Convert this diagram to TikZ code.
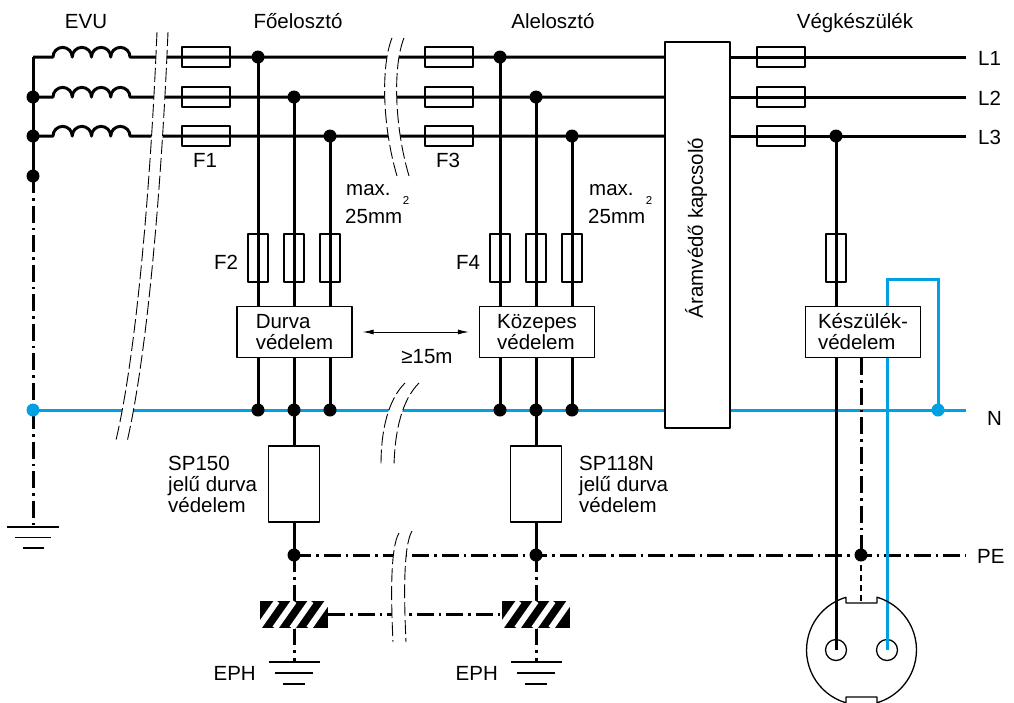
\documentclass[tikz,border=0pt]{standalone}
\usepackage{fontspec}
\setmainfont{Liberation Sans}
\usetikzlibrary{positioning,arrows.meta}
\definecolor{nblue}{RGB}{0,160,227}

\begin{document}
\begin{tikzpicture}[x=1pt, y=-1pt, line join=round]

\tikzstyle{every node} = [inner sep=0pt, font=\fontsize{20.5}{21}\selectfont]
\tikzstyle{wire} = [line width=3pt]
\tikzstyle{nwire} = [line width=3pt, draw=nblue]
\tikzstyle{pewire} = [line width=3pt, dash pattern=on 17pt off 5pt on 2.5pt off 5pt]
\tikzstyle{brk} = [line width=0.9pt, dash pattern=on 14pt off 4pt]
\tikzstyle{gnd} = [line width=1.5pt]
\tikzstyle{jdot} = [circle, fill=black, minimum size=13pt]
\tikzstyle{ndot} = [circle, fill=nblue, minimum size=13pt]
\tikzstyle{fuseh} = [rectangle, draw, line width=1.3pt, minimum width=48pt, minimum height=20pt]
\tikzstyle{fusev} = [rectangle, draw, line width=1.3pt, minimum width=20pt, minimum height=48pt]
\tikzstyle{prot} = [rectangle, draw, fill=white, line width=1.3pt, minimum width=115pt, minimum height=51pt, align=left]
\tikzstyle{spbox} = [rectangle, draw, fill=white, line width=1.3pt, minimum width=51pt, minimum height=76pt]
\tikzstyle{ephbar} = [rectangle, fill=black, minimum width=68pt, minimum height=27pt]
\tikzstyle{sockpin} = [circle, draw, line width=1.3pt, minimum size=21pt]

\useasboundingbox (0,0) rectangle (1014,702);

\node[anchor=base] (evu) at (86,28) {EVU};
\node[anchor=base] (fo) at (298,28) {Főelosztó};
\node[anchor=base] (al) at (553,28) {Alelosztó};
\node[anchor=base] (vk) at (855,28) {Végkészülék};

\node[anchor=west] (l1) at (978,58) {L1};
\node[anchor=west] (l2) at (978,98) {L2};
\node[anchor=west] (l3) at (978,137) {L3};
\node[anchor=west] (ln) at (987,418) {N};
\node[anchor=west] (lpe) at (977,556) {PE};

\coordinate (k1) at (33,57);
\coordinate (k2) at (33,97);
\coordinate (k3) at (33,136);
\coordinate (k4) at (33,176);
\coordinate (k5) at (33,410);
\coordinate (g0) at (33,527);
\coordinate (r1) at (966,57);
\coordinate (r2) at (966,97);
\coordinate (r3) at (966,136);
\coordinate (rn) at (966,410);
\coordinate (rpe) at (966,555);

\coordinate (a1) at (258,57);
\coordinate (a2) at (294,97);
\coordinate (a3) at (330,136);
\coordinate (n1) at (258,410);
\coordinate (n2) at (294,410);
\coordinate (n3) at (330,410);
\coordinate (b1) at (500,57);
\coordinate (b2) at (536,97);
\coordinate (b3) at (572,136);
\coordinate (m1) at (500,410);
\coordinate (m2) at (536,410);
\coordinate (m3) at (572,410);
\coordinate (p1) at (294,555);
\coordinate (p2) at (536,555);
\coordinate (p3) at (861,555);
\coordinate (g1) at (294,662);
\coordinate (g2) at (536,662);
\coordinate (v3) at (836,136);
\coordinate (c1) at (887,279);
\coordinate (c2) at (938,279);
\coordinate (nd) at (938,410);
\coordinate (sk) at (861,603);

\node[fuseh] (fa1) at (206,57) {};
\node[fuseh] (fa2) at (206,97) {};
\node[fuseh] (fa3) at (206,136) {};
\node[fuseh] (fb1) at (449,57) {};
\node[fuseh] (fb2) at (449,97) {};
\node[fuseh] (fb3) at (449,136) {};
\node[fuseh] (fc1) at (781,57) {};
\node[fuseh] (fc2) at (781,97) {};
\node[fuseh] (fc3) at (781,136) {};

\node[fusev] (fd1) at (258,258) {};
\node[fusev] (fd2) at (294,258) {};
\node[fusev] (fd3) at (330,258) {};
\node[fusev] (fe1) at (500,258) {};
\node[fusev] (fe2) at (536,258) {};
\node[fusev] (fe3) at (572,258) {};
\node[fusev] (ff) at (836,258) {};

\node (lf1) at (205,160) {F1};
\node (lf3) at (448,160) {F3};
\node (lf2) at (226,262) {F2};
\node (lf4) at (468,262) {F4};

\node[anchor=base west] (mx1) at (346,195) {max.};
\node[anchor=base west] (mm1) at (345,223) {25mm};
\node[font=\fontsize{11.5}{12}\selectfont] (sq1) at (406,200) {2};
\node[anchor=base west] (mx2) at (589,195) {max.};
\node[anchor=base west] (mm2) at (588,223) {25mm};
\node[font=\fontsize{11.5}{12}\selectfont] (sq2) at (649,200) {2};

\node[prot] (dv) at (294.5,332) {Durva\\védelem};
\node[prot] (kz) at (537,332) {Közepes\\védelem};
\node[prot] (ks) at (863,332) {Készülék-\\védelem};
\node[rectangle, draw, fill=white, line width=1.3pt, minimum width=65pt, minimum height=386pt] (ak) at (697.5,235) {};
\node[rotate=90] (akt) at (696,228) {Áramvédő kapcsoló};

\node[spbox] (sp1) at (294,484) {};
\node[spbox] (sp2) at (536,484) {};
\node[anchor=north west, align=left] (tsp1) at (168,456) {SP150\\jelű durva\\védelem};
\node[anchor=north west, align=left] (tsp2) at (579,456) {SP118N\\jelű durva\\védelem};

\node[ephbar] (e1) at (294,614.5) {};
\node[ephbar] (e2) at (536,614.5) {};
\node[anchor=east] (te1) at (256,673) {EPH};
\node[anchor=east] (te2) at (498,673) {EPH};

\node[sockpin] (pl) at (836,650) {};
\node[sockpin] (pr) at (887,650) {};

\draw[wire] (k1) -- (53,57) arc[start angle=180, end angle=360, radius=9.625] arc[start angle=180, end angle=360, radius=9.625] arc[start angle=180, end angle=360, radius=9.625] arc[start angle=180, end angle=360, radius=9.625] -- (ak.west |- k1);
\draw[wire] (k2) -- (53,97) arc[start angle=180, end angle=360, radius=9.625] arc[start angle=180, end angle=360, radius=9.625] arc[start angle=180, end angle=360, radius=9.625] arc[start angle=180, end angle=360, radius=9.625] -- (ak.west |- k2);
\draw[wire] (k3) -- (53,136) arc[start angle=180, end angle=360, radius=9.625] arc[start angle=180, end angle=360, radius=9.625] arc[start angle=180, end angle=360, radius=9.625] arc[start angle=180, end angle=360, radius=9.625] -- (ak.west |- k3);
\draw[wire] (ak.east |- k1) -- (r1);
\draw[wire] (ak.east |- k2) -- (r2);
\draw[wire] (ak.east |- k3) -- (r3);

\draw[wire] (k1) -- (k4);
\draw[pewire] (k4) -- (g0);
\draw[nwire] (k5) -- (ak.west |- k5);
\draw[nwire] (ak.east |- k5) -- (rn);

\draw[wire] (a1) -- (a1 |- dv.north);
\draw[wire] (a2) -- (a2 |- dv.north);
\draw[wire] (a3) -- (a3 |- dv.north);
\draw[wire] (a1 |- dv.south) -- (n1);
\draw[wire] (a2 |- dv.south) -- (n2);
\draw[wire] (a3 |- dv.south) -- (n3);
\draw[wire] (n2) -- (sp1.north);
\draw[wire] (sp1.south) -- (p1);

\draw[wire] (b1) -- (b1 |- kz.north);
\draw[wire] (b2) -- (b2 |- kz.north);
\draw[wire] (b3) -- (b3 |- kz.north);
\draw[wire] (b1 |- kz.south) -- (m1);
\draw[wire] (b2 |- kz.south) -- (m2);
\draw[wire] (b3 |- kz.south) -- (m3);
\draw[wire] (m2) -- (sp2.north);
\draw[wire] (sp2.south) -- (p2);

\draw[pewire] (p1) -- (rpe);
\draw[pewire] (p1) -- (e1.north);
\draw[pewire] (p2) -- (e2.north);
\draw[pewire] (e1.south) -- (g1);
\draw[pewire] (e2.south) -- (g2);
\draw[pewire] (e1.east) -- (e2.west);

\begin{scope}
\clip (e1.south west) rectangle (e1.north east);
\draw[white, line width=6pt] ([xshift=-36pt]e1.south) -- ++(19,-27);
\draw[white, line width=6pt] ([xshift=-19pt]e1.south) -- ++(19,-27);
\draw[white, line width=6pt] ([xshift=-2pt]e1.south) -- ++(19,-27);
\draw[white, line width=6pt] ([xshift=15pt]e1.south) -- ++(19,-27);
\end{scope}
\begin{scope}
\clip (e2.south west) rectangle (e2.north east);
\draw[white, line width=6pt] ([xshift=-36pt]e2.south) -- ++(19,-27);
\draw[white, line width=6pt] ([xshift=-19pt]e2.south) -- ++(19,-27);
\draw[white, line width=6pt] ([xshift=-2pt]e2.south) -- ++(19,-27);
\draw[white, line width=6pt] ([xshift=15pt]e2.south) -- ++(19,-27);
\end{scope}

\draw[wire] (v3) -- (v3 |- ks.north);
\draw[wire] (v3 |- ks.south) -- (pl.center);
\draw[pewire] (p3 |- ks.south) -- (p3);
\draw[line width=2pt, dash pattern=on 6pt off 4pt] (p3) -- (sk);
\draw[nwire, line join=miter] (c1 |- ks.north) -- (c1) -- (c2) -- (nd);
\draw[nwire] (c1 |- ks.south) -- (pr.center);

\draw[line width=1.3pt] (846,597.2) -- (846,603) -- (877,603) -- (877,597.2) arc[start angle=-73.6, end angle=73.6, radius=55] -- (877,697) -- (846,697) -- (846,702.8) arc[start angle=106.4, end angle=253.6, radius=55];

\draw[gnd] ([xshift=-26pt]g0) -- ([xshift=26pt]g0);
\draw[gnd] ([xshift=-18pt,yshift=-10.5pt]g0) -- ([xshift=18pt,yshift=-10.5pt]g0);
\draw[gnd] ([xshift=-10.5pt,yshift=-21pt]g0) -- ([xshift=10.5pt,yshift=-21pt]g0);
\draw[gnd] ([xshift=-25.5pt]g1) -- ([xshift=25.5pt]g1);
\draw[gnd] ([xshift=-19pt,yshift=-11pt]g1) -- ([xshift=19pt,yshift=-11pt]g1);
\draw[gnd] ([xshift=-11pt,yshift=-22pt]g1) -- ([xshift=11pt,yshift=-22pt]g1);
\draw[gnd] ([xshift=-25.5pt]g2) -- ([xshift=25.5pt]g2);
\draw[gnd] ([xshift=-19pt,yshift=-11pt]g2) -- ([xshift=19pt,yshift=-11pt]g2);
\draw[gnd] ([xshift=-11pt,yshift=-22pt]g2) -- ([xshift=11pt,yshift=-22pt]g2);

\draw[{Latex[length=11pt,width=5pt]}-{Latex[length=11pt,width=5pt]}, line width=0.9pt] ([xshift=10pt]dv.east) -- ([xshift=-10pt]kz.west);
\node[anchor=base] (dist) at (427,363) {≥15m};

% breaks
\fill[white] (157,32) .. controls (150,200) and (135,360) .. (116,440) -- (127,442) .. controls (146,360) and (161,200) .. (168,32) -- cycle;
\draw[brk] (157,32) .. controls (150,200) and (135,360) .. (116,440);
\draw[brk] (168,32) .. controls (161,200) and (146,360) .. (127,442);
\fill[white] (392,38) .. controls (381,65) and (382,125) .. (397,176) -- (409,176) .. controls (394,125) and (393,65) .. (404,38) -- cycle;
\draw[brk] (392,38) .. controls (381,65) and (382,125) .. (397,176);
\draw[brk] (404,38) .. controls (393,65) and (394,125) .. (409,176);
\fill[white] (405,383) .. controls (388,400) and (381,430) .. (381,465) -- (394,465) .. controls (395,430) and (402,400) .. (419,383) -- cycle;
\draw[brk] (405,383) .. controls (388,400) and (381,430) .. (381,465);
\draw[brk] (419,383) .. controls (402,400) and (395,430) .. (394,465);
\fill[white] (399,533) .. controls (390,548) and (391,600) .. (393,642) -- (406,642) .. controls (404,600) and (403,546) .. (412,531) -- cycle;
\draw[brk] (399,533) .. controls (390,548) and (391,600) .. (393,642);
\draw[brk] (412,531) .. controls (403,546) and (404,600) .. (406,642);

\node[jdot] at (k2) {};
\node[jdot] at (k3) {};
\node[jdot] at (k4) {};
\node[jdot] at (a1) {};
\node[jdot] at (a2) {};
\node[jdot] at (a3) {};
\node[jdot] at (n1) {};
\node[jdot] at (n2) {};
\node[jdot] at (n3) {};
\node[jdot] at (b1) {};
\node[jdot] at (b2) {};
\node[jdot] at (b3) {};
\node[jdot] at (m1) {};
\node[jdot] at (m2) {};
\node[jdot] at (m3) {};
\node[jdot] at (p1) {};
\node[jdot] at (p2) {};
\node[jdot] at (p3) {};
\node[jdot] at (v3) {};
\node[ndot] at (k5) {};
\node[ndot] at (nd) {};

\end{tikzpicture}
\end{document}
